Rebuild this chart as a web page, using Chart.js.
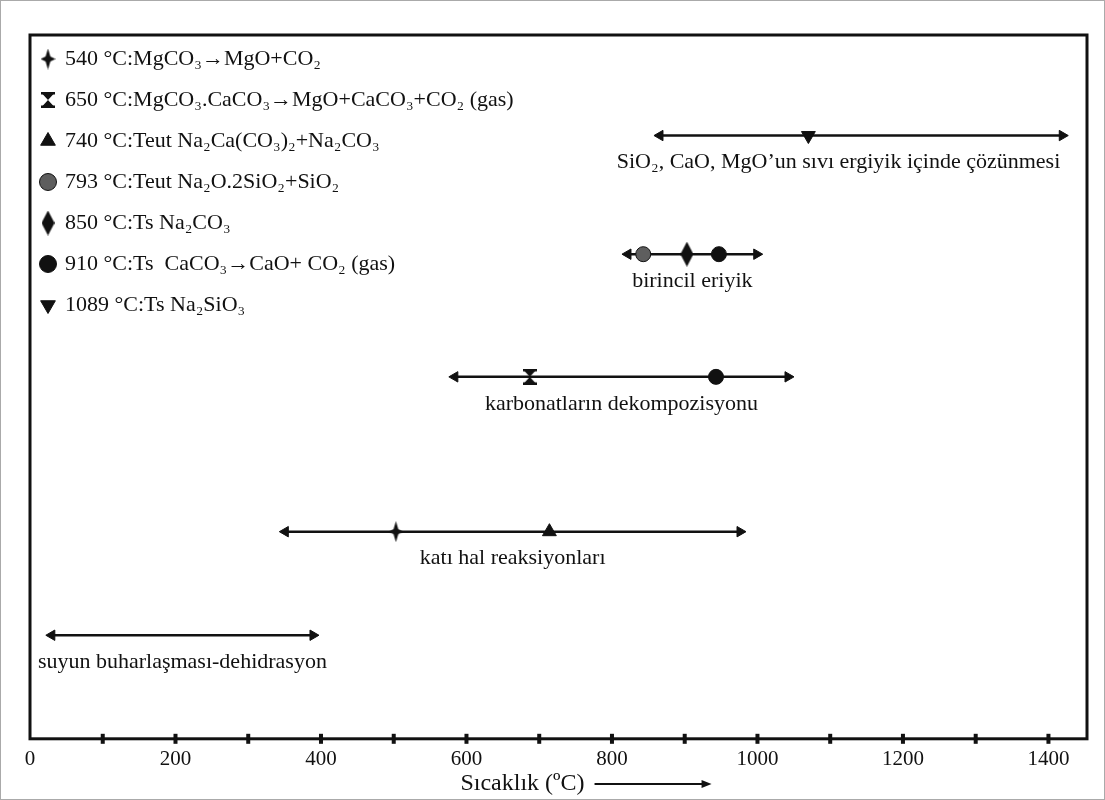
<!DOCTYPE html>
<html>
<head>
<meta charset="utf-8">
<script src="https://cdn.jsdelivr.net/npm/chart.js@4.4.1/dist/chart.umd.min.js"></script>
<style>
  html, body { margin: 0; padding: 0; background: #fff; }
  #wrap { position: absolute; left: 0; top: 0; width: 1105px; height: 800px; }
</style>
</head>
<body>
<div id="wrap"><canvas id="chart"></canvas></div>
<script>
(function () {
  'use strict';

  // x axis (temperature) ticks
  var X_MAX = 1453;
  var X_TICKS = [0, 100, 200, 300, 400, 500, 600, 700, 800, 900, 1000, 1100, 1200, 1300, 1400];
  var X_LABELS = [0, 200, 400, 600, 800, 1000, 1200, 1400];

  // process ranges, bottom to top
  var ROW_LABELS = [
    'suyun buharlaşması-dehidrasyon',
    'katı hal reaksiyonları',
    'karbonatların dekompozisyonu',
    'birincil eriyik',
    'SiO₂, CaO, MgO’un sıvı ergiyik içinde çözünmesi'
  ];
  var ROW_LEVEL = [1.03, 2.06, 3.6, 4.82, 6.0];
  var ROW_FROM = [30, 351, 584, 822, 866];
  var ROW_TO = [389, 976, 1042, 999, 1419];

  // reaction events (legend) and where they sit on the ranges
  var EVENT_NAMES = [
    '540 °C:MgCO₃→MgO+CO₂',
    '650 °C:MgCO₃.CaCO₃→MgO+CaCO₃+CO₂ (gas)',
    '740 °C:Teut Na₂Ca(CO₃)₂+Na₂CO₃',
    '793 °C:Teut Na₂O.2SiO₂+SiO₂',
    '850 °C:Ts Na₂CO₃',
    '910 °C:Ts  CaCO₃→CaO+ CO₂ (gas)',
    '1089 °C:Ts Na₂SiO₃'
  ];
  var EVENT_X = [[503], [687], [714], [843], [903], [943, 947], [1070]];
  var EVENT_ROW = [[1], [2], [1], [3], [3], [2, 3], [4]];

  var FONT = "'Liberation Serif', 'Times New Roman', serif";
  var INK = '#111';

  function makeCanvas(w, h, draw) {
    var c = document.createElement('canvas');
    c.width = w;
    c.height = h;
    var g = c.getContext('2d');
    g.fillStyle = INK;
    draw(g, w, h);
    return c;
  }

  var star4 = makeCanvas(15, 21, function (g, w, h) {
    var cx = w / 2, cy = h / 2, k = 2.4;
    g.beginPath();
    g.moveTo(cx, 0);
    g.lineTo(cx + k, cy - k);
    g.lineTo(w, cy);
    g.lineTo(cx + k, cy + k);
    g.lineTo(cx, h);
    g.lineTo(cx - k, cy + k);
    g.lineTo(0, cy);
    g.lineTo(cx - k, cy - k);
    g.closePath();
    g.fill();
  });

  var hourglass = makeCanvas(14, 16, function (g, w, h) {
    g.fillRect(0, 0, w, 2.5);
    g.fillRect(0, h - 2.5, w, 2.5);
    g.beginPath();
    g.moveTo(1.5, 2);
    g.lineTo(w - 1.5, 2);
    g.lineTo(w / 2, h / 2);
    g.lineTo(w - 1.5, h - 2);
    g.lineTo(1.5, h - 2);
    g.lineTo(w / 2, h / 2);
    g.closePath();
    g.fill();
  });

  var tallDiamond = makeCanvas(13, 25, function (g, w, h) {
    g.beginPath();
    g.moveTo(w / 2, 0);
    g.lineTo(w, h / 2);
    g.lineTo(w / 2, h);
    g.lineTo(0, h / 2);
    g.closePath();
    g.fill();
  });

  var EVENT_STYLE = [
    { pointStyle: star4, rotation: 0, fill: INK, radius: 8 },
    { pointStyle: hourglass, rotation: 0, fill: INK, radius: 8 },
    { pointStyle: 'triangle', rotation: 0, fill: INK, radius: 8 },
    { pointStyle: 'circle', rotation: 0, fill: '#5e5e5e', radius: 7.5 },
    { pointStyle: tallDiamond, rotation: 0, fill: INK, radius: 8 },
    { pointStyle: 'circle', rotation: 0, fill: INK, radius: 7.5 },
    { pointStyle: 'triangle', rotation: 180, fill: INK, radius: 8 }
  ];

  var datasets = [];

  EVENT_NAMES.forEach(function (name, i) {
    var st = EVENT_STYLE[i];
    datasets.push({
      type: 'scatter',
      label: name,
      data: EVENT_X[i].map(function (x, k) { return { x: x, y: ROW_LEVEL[EVENT_ROW[i][k]] }; }),
      pointStyle: st.pointStyle,
      rotation: st.rotation,
      pointRadius: st.radius,
      pointHoverRadius: st.radius,
      backgroundColor: st.fill,
      borderColor: INK,
      borderWidth: 1
    });
  });

  ROW_LABELS.forEach(function (name, i) {
    datasets.push({
      type: 'line',
      label: name,
      data: [{ x: ROW_FROM[i], y: ROW_LEVEL[i] }, { x: ROW_TO[i], y: ROW_LEVEL[i] }],
      borderColor: INK,
      borderWidth: 2.5,
      pointStyle: 'triangle',
      rotation: [270, 90],
      pointRadius: 6,
      pointHoverRadius: 6,
      pointBackgroundColor: INK,
      pointBorderColor: INK,
      pointBorderWidth: 1,
      fill: false
    });
  });

  var TITLE = 'Sıcaklık (ºC)';
  var TITLE_PAD = '            ';
  var TITLE_FONT = '24px ' + FONT;

  var decor = {
    id: 'decor',
    beforeDraw: function (chart) {
      var ctx = chart.ctx;
      ctx.save();
      ctx.fillStyle = '#fff';
      ctx.fillRect(0, 0, chart.width, chart.height);
      ctx.strokeStyle = '#aaa';
      ctx.lineWidth = 1;
      ctx.strokeRect(0.5, 0.5, chart.width - 1, chart.height - 1);
      ctx.restore();
    },
    afterLayout: function (chart) {
      var lg = chart.legend;
      if (lg) {
        lg.left = chart.chartArea.left - 7;
        lg.top = 29;
      }
    },
    afterDraw: function (chart) {
      var ctx = chart.ctx;
      var a = chart.chartArea;
      var xs = chart.scales.x;
      var ys = chart.scales.y;
      ctx.save();

      // frame
      ctx.strokeStyle = INK;
      ctx.lineWidth = 3;
      ctx.strokeRect(a.left, a.top, a.right - a.left, a.bottom - a.top);

      // tick marks across the axis
      ctx.fillStyle = INK;
      X_TICKS.forEach(function (v) {
        if (v === 0) return;
        var px = xs.getPixelForValue(v);
        ctx.fillRect(px - 2, a.bottom - 5, 4, 10);
      });

      // range captions
      ctx.font = '22px ' + FONT;
      ctx.textBaseline = 'middle';
      ROW_LABELS.forEach(function (name, i) {
        var y = ys.getPixelForValue(ROW_LEVEL[i]) + 27;
        var x0 = xs.getPixelForValue(ROW_FROM[i]);
        var x1 = xs.getPixelForValue(ROW_TO[i]);
        if (i === ROW_LABELS.length - 1) {
          ctx.textAlign = 'right';
          ctx.fillText(name, x1 - 2, y);
        } else {
          ctx.textAlign = 'center';
          ctx.fillText(name, (x0 + x1) / 2, y);
        }
      });

      // arrow after axis title
      ctx.font = TITLE_FONT;
      var full = ctx.measureText(TITLE + TITLE_PAD).width;
      var tw = ctx.measureText(TITLE).width;
      var cx = (a.left + a.right) / 2;
      var ax0 = cx - full / 2 + tw + 10;
      var ax1 = ax0 + 117;
      var ay = xs.bottom - 16;
      ctx.lineWidth = 2;
      ctx.strokeStyle = INK;
      ctx.beginPath();
      ctx.moveTo(ax0, ay);
      ctx.lineTo(ax1 - 8, ay);
      ctx.stroke();
      ctx.beginPath();
      ctx.moveTo(ax1, ay);
      ctx.lineTo(ax1 - 10, ay - 4);
      ctx.lineTo(ax1 - 10, ay + 4);
      ctx.closePath();
      ctx.fill();
      ctx.restore();
    }
  };

  new Chart(document.getElementById('chart'), {
    data: { datasets: datasets },
    options: {
      responsive: true,
      maintainAspectRatio: false,
      animation: false,
      layout: { padding: { left: 30, top: 35, right: 18, bottom: 0 } },
      plugins: {
        legend: {
          position: 'chartArea',
          align: 'start',
          labels: {
            usePointStyle: true,
            boxWidth: 12,
            boxHeight: 12,
            padding: 19,
            color: INK,
            font: { family: FONT, size: 22 },
            filter: function (item) { return item.datasetIndex < EVENT_NAMES.length; }
          }
        },
        tooltip: { enabled: false }
      },
      scales: {
        x: {
          type: 'linear',
          min: 0,
          max: X_MAX,
          afterBuildTicks: function (scale) {
            scale.ticks = X_TICKS.map(function (v) { return { value: v }; });
          },
          grid: { display: false },
          border: { display: false },
          ticks: {
            autoSkip: false,
            maxRotation: 0,
            padding: 0,
            color: INK,
            font: { family: FONT, size: 21 },
            callback: function (v) { return X_LABELS.indexOf(v) >= 0 ? String(v) : ''; }
          },
          title: {
            display: true,
            text: TITLE + TITLE_PAD,
            color: INK,
            font: { family: FONT, size: 24, lineHeight: 1.0 },
            padding: { top: 0, bottom: 4 }
          }
        },
        y: {
          type: 'linear',
          display: false,
          min: 0,
          max: 7
        }
      }
    },
    plugins: [decor]
  });
})();
</script>
</body>
</html>
